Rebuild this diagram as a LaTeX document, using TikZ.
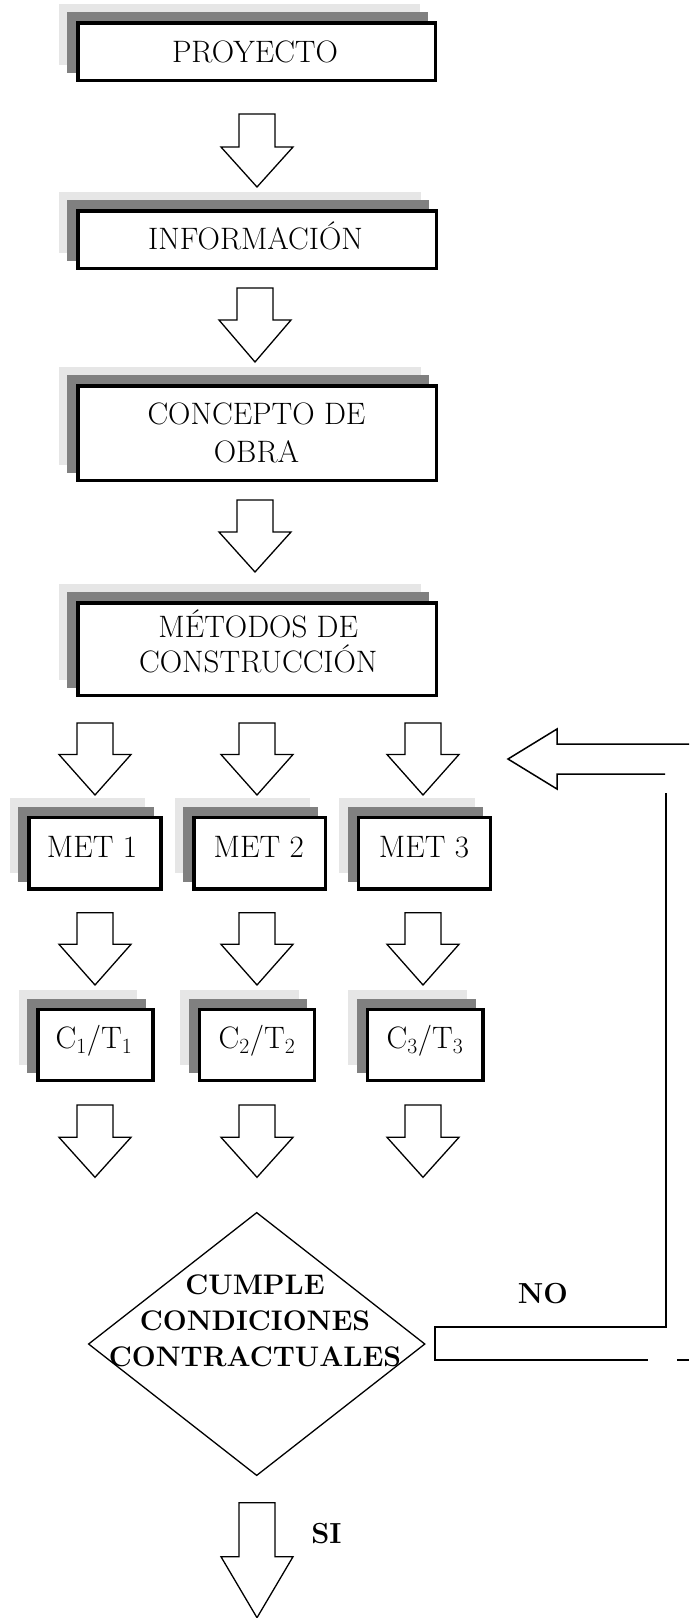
\documentclass[tikz,border=0pt]{standalone}
\usepackage{fontspec}
\usetikzlibrary{shapes.geometric,calc}
\definecolor{lightg}{RGB}{230,230,230}
\definecolor{darkg}{RGB}{128,128,128}
\pgfdeclarelayer{bg}
\pgfsetlayers{bg,main}
\tikzset{
  box/.style={rectangle, draw=black, fill=white, line width=3.5pt, inner sep=0pt},
  txt/.style={inner sep=0pt, font=\fontsize{31}{37}\selectfont},
  mtxt/.style={txt, align=center},
  btxt/.style={inner sep=0pt, font=\fontsize{29}{36}\selectfont\bfseries},
  dectxt/.style={inner sep=0pt, align=center, font=\fontsize{28.3}{36}\selectfont\bfseries},
  arrowline/.style={draw=black, fill=white, line width=1.3pt, line join=miter},
  pics/darr/.style 2 args={code={\draw[arrowline] (-18,0) -- (18,0) -- (18,#1) -- (36,#1) -- (0,#1+#2) -- (-36,#1) -- (-18,#1) -- cycle;}},
  decision/.style={diamond, draw=black, fill=white, line width=1.3pt, inner sep=0pt, minimum width=336.7pt, minimum height=263.3pt},
  retline/.style={draw=black, line width=1.5pt},
}
\begin{document}
\begin{tikzpicture}[x=1pt,y=-1pt]
\useasboundingbox (0,0) rectangle (689,1618);
\clip (0,0) rectangle (689,1618);

% main boxes
\node[box, minimum width=357.5pt, minimum height=57.5pt] (proy) at (256.5,51.5) {};
\node[box, minimum width=358.5pt, minimum height=57.5pt] (info) at (257,239.5) {};
\node[box, minimum width=358.5pt, minimum height=94.5pt] (conc) at (257,433) {};
\node[box, minimum width=358.5pt, minimum height=92.5pt] (meto) at (257,649) {};
% method boxes
\node[box, minimum width=131.9pt, minimum height=71.2pt] (met1) at (95,853.3) {};
\node[box, minimum width=131.9pt, minimum height=71.2pt] (met2) at (259.7,853.3) {};
\node[box, minimum width=131.9pt, minimum height=71.2pt] (met3) at (424.5,853.3) {};
% cost/time boxes
\node[box, minimum width=115.2pt, minimum height=71.1pt] (ct1) at (95.4,1045) {};
\node[box, minimum width=115.2pt, minimum height=71.1pt] (ct2) at (257,1045) {};
\node[box, minimum width=115.2pt, minimum height=71.1pt] (ct3) at (425.2,1045) {};

% shadows
\begin{pgfonlayer}{bg}
\foreach \n in {proy,info,conc,meto,met1,met2,met3,ct1,ct2,ct3}{
  \fill[lightg] ($(\n.south west)+(-17.5,-17.5)$) rectangle ($(\n.north east)+(-17.5,-17.5)$);
  \fill[darkg] ($(\n.south west)+(-9,-9)$) rectangle ($(\n.north east)+(-9,-9)$);
}
\end{pgfonlayer}

% texts
\node[txt, anchor=base] (proyT) at (255,62.3) {PROYECTO};
\node[txt, anchor=base] (infoT) at (255.5,249) {INFORMACIÓN};
\node[mtxt, font=\fontsize{31}{38}\selectfont] (concT) at (256.5,432.5) {CONCEPTO DE\\OBRA};
\node[mtxt, font=\fontsize{31}{35}\selectfont] (metoT) at (258.3,641) {MÉTODOS DE\\CONSTRUCCIÓN};
\node[txt, anchor=base] (met1T) at (92,857) {MET 1};
\node[txt, anchor=base] (met2T) at (258.8,857) {MET 2};
\node[txt, anchor=base] (met3T) at (424,857) {MET 3};
\node[txt, anchor=base] (ct1T) at (94,1048) {C\textsubscript{1}/T\textsubscript{1}};
\node[txt, anchor=base] (ct2T) at (257,1048) {C\textsubscript{2}/T\textsubscript{2}};
\node[txt, anchor=base] (ct3T) at (425,1048) {C\textsubscript{3}/T\textsubscript{3}};

% block arrows
\pic (a1) at (257,114) {darr={33}{40}};
\pic (a2) at (255,288) {darr={32}{42}};
\pic (a3) at (255,500) {darr={32}{40}};
\pic (m1) at (95,723) {darr={31.5}{40.5}};
\pic (m2) at (257,723) {darr={31.5}{40.5}};
\pic (m3) at (423,723) {darr={31.5}{40.5}};
\pic (c1) at (95,912.7) {darr={31.6}{40.7}};
\pic (c2) at (257,912.7) {darr={31.6}{40.7}};
\pic (c3) at (423,912.7) {darr={31.6}{40.7}};
\pic (d1) at (95,1105) {darr={32.3}{40}};
\pic (d2) at (257,1105) {darr={32.3}{40}};
\pic (d3) at (423,1105) {darr={32.3}{40}};

% decision
\node[decision] (dec) at (256.7,1344) {};
\node[dectxt] (decT) at (255,1321) {CUMPLE\\CONDICIONES\\CONTRACTUALES};

% yes arrow
\pic (si) at (257,1502.7) {darr={54}{61}};
\node[btxt, anchor=base] (siT) at (326.5,1543) {SI};

% no: return block arrow
\node[btxt, anchor=base] (noT) at (542.8,1303) {NO};
\coordinate (rb1) at (435,1327);
\coordinate (rb2) at (435,1360);
\coordinate (rv1) at (666,1327);
\coordinate (rv2) at (666,793);
\coordinate (rtip) at (508,759);
\draw[retline] (rv2) -- (rv1) -- (rb1) -- (rb2) -- (648,1360);
\draw[retline] (677,1360) -- (689,1360);
\draw[retline, line join=miter] (689,744) -- (557,744) -- (557,729) -- (rtip) -- (557,789) -- (557,774) -- (665,774);
\end{tikzpicture}
\end{document}
